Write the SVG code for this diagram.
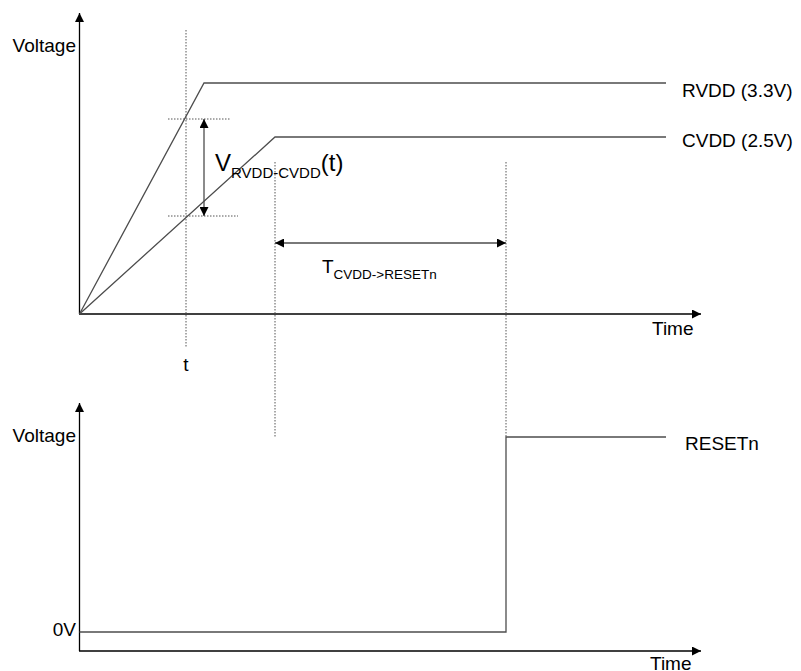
<svg xmlns="http://www.w3.org/2000/svg" width="801" height="671" viewBox="0 0 801 671">
<style>
text{font-family:"Liberation Sans",Arial,sans-serif;fill:#000}
.lbl{font-size:19px}
.axis{stroke:#000;stroke-width:1.3;fill:none}
.sig{stroke:#4d4d4d;stroke-width:1.3;fill:none}
.dot{stroke:#555;stroke-width:1;stroke-dasharray:1.5,1.5;fill:none}
.dim{stroke:#4d4d4d;stroke-width:1.3;fill:none}
</style>
<defs>
<marker id="ah" viewBox="0 0 10 10" refX="10" refY="5" markerWidth="9" markerHeight="9" markerUnits="userSpaceOnUse" orient="auto-start-reverse">
<path d="M0,0 L10,5 L0,10 z" fill="#000"/>
</marker>
</defs>
<g id="connectors">
<line class="axis" x1="79.5" y1="314" x2="79.5" y2="13" marker-end="url(#ah)"/>
<line class="axis" x1="79" y1="314" x2="701" y2="314" marker-end="url(#ah)"/>
<polyline class="sig" points="79.5,314 204,83 666,83"/>
<polyline class="sig" points="79.5,314 275,137 666,137"/>
<line class="dot" x1="186" y1="30" x2="186" y2="348"/>
<line class="dot" x1="168" y1="119" x2="230" y2="119"/>
<line class="dot" x1="168" y1="216" x2="238" y2="216"/>
<line class="dot" x1="275" y1="162" x2="275" y2="437"/>
<line class="dot" x1="506" y1="162" x2="506" y2="437"/>
<line class="dim" x1="204" y1="119" x2="204" y2="216" marker-start="url(#ah)" marker-end="url(#ah)"/>
<line class="dim" x1="275" y1="243" x2="506" y2="243" marker-start="url(#ah)" marker-end="url(#ah)"/>
<line class="axis" x1="79.5" y1="651" x2="79.5" y2="403" marker-end="url(#ah)"/>
<line class="axis" x1="79" y1="651" x2="701" y2="651" marker-end="url(#ah)"/>
<polyline class="sig" points="79.5,632 506,632 506,437 666,437"/>
</g>
<g id="top-axis-labels">
<text class="lbl" x="76" y="52" text-anchor="end">Voltage</text>
<text class="lbl" x="652" y="335">Time</text>
<text class="lbl" x="186" y="371" text-anchor="middle">t</text>
</g>
<g id="rvdd"><text class="lbl" x="682" y="97">RVDD (3.3V)</text></g>
<g id="cvdd"><text class="lbl" x="682" y="147">CVDD (2.5V)</text></g>
<g id="vdiff"><text x="215" y="171" style="font-size:24px">V<tspan style="font-size:15px" dy="7">RVDD-CVDD</tspan><tspan dy="-7">(t)</tspan></text></g>
<g id="tdelay"><text x="322" y="273" style="font-size:19px">T<tspan style="font-size:13.5px" dy="6">CVDD-&gt;RESETn</tspan></text></g>
<g id="bottom-axis-labels">
<text class="lbl" x="76" y="442" text-anchor="end">Voltage</text>
<text class="lbl" x="76" y="636" text-anchor="end">0V</text>
<text class="lbl" x="650" y="670">Time</text>
</g>
<g id="resetn"><text class="lbl" x="685" y="450">RESETn</text></g>
</svg>
